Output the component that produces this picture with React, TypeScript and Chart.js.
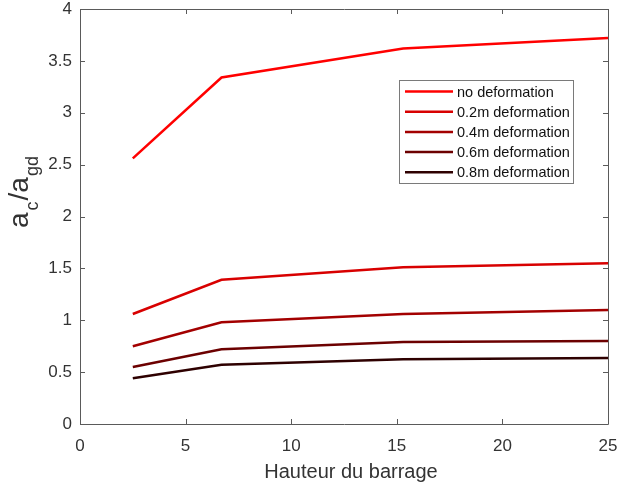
import React, { useEffect, useRef } from "react";
import { Chart, registerables } from "chart.js";

Chart.register(...registerables);

// ---- data ----
const heights = [2.5, 6.7, 15.3, 25];
const noDeformation = [2.56, 3.34, 3.62, 3.72];
const deformation02 = [1.06, 1.39, 1.51, 1.55];
const deformation04 = [0.75, 0.98, 1.06, 1.1];
const deformation06 = [0.55, 0.72, 0.79, 0.8];
const deformation08 = [0.44, 0.57, 0.625, 0.635];

const seriesLabels = [
  "no deformation",
  "0.2m deformation",
  "0.4m deformation",
  "0.6m deformation",
  "0.8m deformation",
];
const seriesValues = [noDeformation, deformation02, deformation04, deformation06, deformation08];
const seriesColors = ["#ff0000", "#d80000", "#a30000", "#6c0000", "#2e0000"];

const xTitle = "Hauteur du barrage";
const xMin = 0;
const xMax = 25;
const xStep = 5;
const yMin = 0;
const yMax = 4;
const yStep = 0.5;

const FONT = "Arial, 'Liberation Sans', sans-serif";
const AXIS_COLOR = "#5a5a5a";
const TEXT_COLOR = "#333333";

const decorPlugin = {
  id: "decor",
  afterDraw(chart: any) {
    const { ctx, chartArea: a, scales } = chart;
    ctx.save();
    // frame
    ctx.strokeStyle = AXIS_COLOR;
    ctx.lineWidth = 1;
    ctx.beginPath();
    ctx.rect(Math.round(a.left) + 0.5, Math.round(a.top) + 0.5, Math.round(a.right - a.left), Math.round(a.bottom - a.top));
    ctx.stroke();
    // inward ticks
    const tl = 5;
    ctx.beginPath();
    scales.y.ticks.forEach((t: any) => {
      const y = Math.round(scales.y.getPixelForValue(t.value)) + 0.5;
      ctx.moveTo(a.left, y);
      ctx.lineTo(a.left + tl, y);
      ctx.moveTo(a.right, y);
      ctx.lineTo(a.right - tl, y);
    });
    scales.x.ticks.forEach((t: any) => {
      const x = Math.round(scales.x.getPixelForValue(t.value)) + 0.5;
      ctx.moveTo(x, a.bottom);
      ctx.lineTo(x, a.bottom - tl);
      ctx.moveTo(x, a.top);
      ctx.lineTo(x, a.top + tl);
    });
    ctx.stroke();

    // legend
    const lx = 399.5, ly = 80.5, lw = 174, lh = 103;
    ctx.fillStyle = "#ffffff";
    ctx.fillRect(lx, ly, lw, lh);
    ctx.strokeStyle = "#7a7a7a";
    ctx.lineWidth = 1;
    ctx.strokeRect(lx, ly, lw, lh);
    ctx.font = `14.5px ${FONT}`;
    ctx.textBaseline = "middle";
    ctx.textAlign = "left";
    chart.data.datasets.forEach((ds: any, i: number) => {
      const cy = 91.5 + i * 20.2;
      ctx.strokeStyle = ds.borderColor;
      ctx.lineWidth = 2.5;
      ctx.beginPath();
      ctx.moveTo(405, cy);
      ctx.lineTo(453, cy);
      ctx.stroke();
      ctx.fillStyle = "#111111";
      ctx.fillText(ds.label, 457, cy + 1);
    });

    // x title
    ctx.fillStyle = TEXT_COLOR;
    ctx.font = `20px ${FONT}`;
    ctx.textAlign = "center";
    ctx.textBaseline = "alphabetic";
    ctx.fillText(xTitle, 351, 478);

    // y title a_c / a_gd (rotated)
    const pieces = [
      { t: "a", size: 28, bx: 28, gap: 0 },
      { t: "c", size: 18, bx: 38, gap: 2 },
      { t: "/", size: 28, bx: 28, gap: 1 },
      { t: "a", size: 28, bx: 28, gap: 0 },
      { t: "gd", size: 18, bx: 38, gap: 1 },
    ];
    let y = 228;
    ctx.textAlign = "left";
    pieces.forEach((p) => {
      ctx.font = `${p.size}px ${FONT}`;
      y -= p.gap;
      ctx.save();
      ctx.translate(p.bx, y);
      ctx.rotate(-Math.PI / 2);
      ctx.fillText(p.t, 0, 0);
      ctx.restore();
      y -= ctx.measureText(p.t).width;
    });
    ctx.restore();
  },
};

export default function App() {
  const canvasRef = useRef<HTMLCanvasElement | null>(null);

  useEffect(() => {
    if (!canvasRef.current) return;
    const chart = new Chart(canvasRef.current, {
      type: "line",
      data: {
        datasets: seriesLabels.map((label, i) => ({
          label,
          data: heights.map((h, j) => ({ x: h, y: seriesValues[i][j] })),
          borderColor: seriesColors[i],
          backgroundColor: seriesColors[i],
          borderWidth: 2.5,
          pointRadius: 0,
          tension: 0,
          fill: false,
        })),
      },
      options: {
        animation: false,
        responsive: false,
        layout: { padding: { left: 0, right: 9, top: 9, bottom: 0 } },
        plugins: {
          legend: { display: false },
          tooltip: { enabled: false },
          title: { display: false },
        },
        scales: {
          x: {
            type: "linear",
            min: xMin,
            max: xMax,
            grid: { display: false, drawTicks: false },
            border: { display: false },
            ticks: {
              stepSize: xStep,
              padding: 12,
              color: TEXT_COLOR,
              font: { family: FONT, size: 17 },
              maxRotation: 0,
              callback: (v: any) => String(Number(v)),
            },
            afterFit(scale: any) {
              scale.height = 62;
              scale.paddingLeft = 0;
              scale.paddingRight = 0;
            },
          },
          y: {
            type: "linear",
            min: yMin,
            max: yMax,
            grid: { display: false, drawTicks: false },
            border: { display: false },
            ticks: {
              stepSize: yStep,
              padding: 8,
              color: TEXT_COLOR,
              font: { family: FONT, size: 17 },
              callback: (v: any) => String(Number(v)),
            },
            afterFit(scale: any) {
              scale.width = 80;
              scale.paddingTop = 0;
              scale.paddingBottom = 0;
            },
          },
        },
      },
      plugins: [decorPlugin],
    } as any);
    return () => chart.destroy();
  }, []);

  return (
    <div style={{ position: "absolute", left: 0, top: 0, width: 617, height: 486, background: "#fff" }}>
      <canvas ref={canvasRef} width={617} height={486} style={{ display: "block" }} />
    </div>
  );
}
